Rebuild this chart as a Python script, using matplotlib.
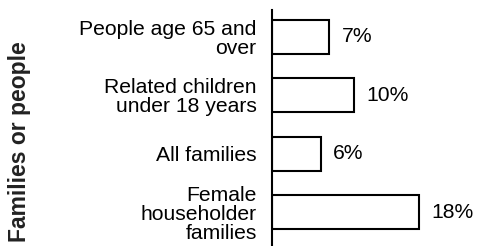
import matplotlib.pyplot as plt

categories = [
    "People age 65 and\nover",
    "Related children\nunder 18 years",
    "All families",
    "Female\nhouseholder\nfamilies",
]
values = [7, 10, 6, 18]
value_labels = ["7%", "10%", "6%", "18%"]

plt.rcParams['font.family'] = ['Liberation Sans', 'DejaVu Sans']

fig = plt.figure(figsize=(4.81, 2.46), dpi=100)
ax = fig.add_axes([272 / 481, 0.0, 1 - 272 / 481, 236 / 246])

pos = list(range(len(categories)))
ax.barh(pos, values, height=0.58, color='white', edgecolor='black', linewidth=1.5)

for p, v, lab in zip(pos, values, value_labels):
    ax.text(v + 1.5, p, lab, va='center', ha='left', fontsize=15.2)

ax.set_xlim(0, 25.6)
ax.set_ylim(3.58, -0.46)
ax.set_yticks(pos)
ax.set_yticklabels(categories, fontsize=15.2, linespacing=1.0, multialignment='right')
ax.tick_params(axis='y', length=0, pad=11)
ax.set_xticks([])

for s in ['top', 'right', 'bottom']:
    ax.spines[s].set_visible(False)
ax.spines['left'].set_linewidth(1.5)

fig.text(20 / 481, 0.425, 'Families or people', rotation=90, fontsize=16.5,
         fontweight='bold', color='#222222', ha='center', va='center')

fig.savefig('out.png', dpi=100)
